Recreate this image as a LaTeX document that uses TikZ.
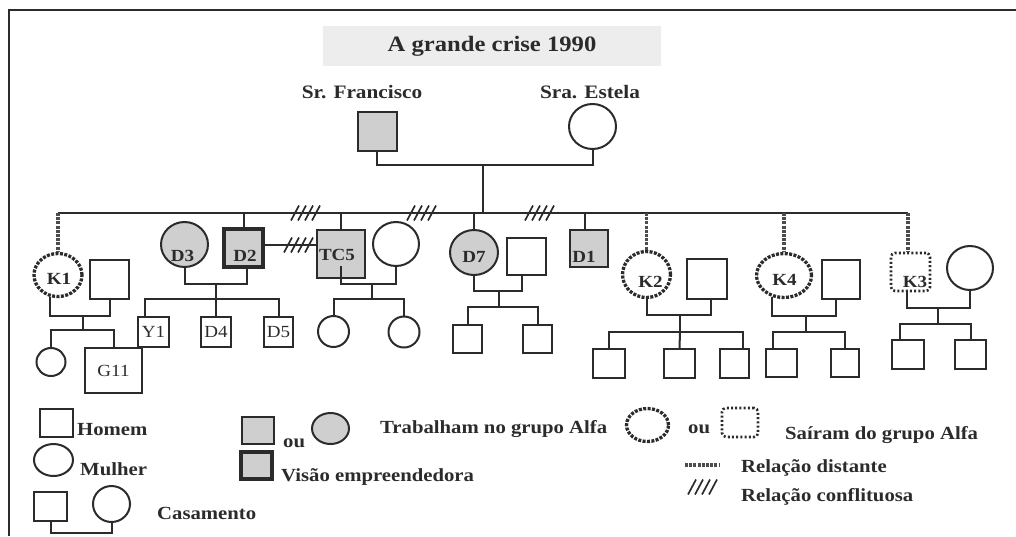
\documentclass[tikz,border=0pt]{standalone}
\usepackage{fontspec}
\setmainfont{Liberation Serif}[FakeStretch=1.12]
\usetikzlibrary{shapes.geometric}
\definecolor{linha}{HTML}{2B2B2B}
\definecolor{cinza}{HTML}{CFCFCF}
\definecolor{fundo}{HTML}{EDEDED}
\tikzset{%
	pessoa/.style     = {draw=linha, line width=2pt, fill=white, text=linha, inner sep=0pt, font=\fontsize{17}{17}\selectfont},
	homem/.style      = {pessoa, rectangle},
	mulher/.style     = {pessoa, ellipse},
	tam/.style 2 args = {minimum width=#1pt, minimum height=#2pt},
	alfa/.style       = {fill=cinza},
	visao/.style      = {line width=3.8pt},
	saiu/.style       = {line width=3.3pt, dash pattern=on 3pt off 1.4pt},
	saiuq/.style      = {line width=2.6pt, dash pattern=on 2pt off 2.2pt, rounded corners=4pt},
	txt/.style n args = {3}{label={[font=\fontsize{17}{17}\selectfont\bfseries, text=linha, inner sep=0pt, xshift=#1pt, yshift=#2pt]center:#3}},
	liga/.style       = {draw=linha, line width=2pt},
	distante/.style   = {draw=black!70, line width=3.2pt, dash pattern=on 3pt off 1.2pt},
	nome/.style       = {text=linha, inner sep=0pt, font=\fontsize{19}{19}\selectfont\bfseries},
	legenda/.style    = {text=linha, inner sep=0pt, anchor=base west, font=\fontsize{18.5}{18.5}\selectfont\bfseries},
	conflito/.pic     = {\foreach \i in {0,...,3} \draw[linha, line width=1.7pt] (-13+7*\i,7.5) -- (-5+7*\i,-7.5);},
}
\begin{document}
\begin{tikzpicture}[x=1pt, y=-1pt]
	\useasboundingbox (0,0) rectangle (1016,536);
	\draw[liga, line width=2.2pt] (9,536) |- (1016,10);
	\node[nome, fill=fundo, minimum width=338pt, minimum height=40pt, font=\fontsize{22}{22}\selectfont\bfseries] (titulo) at (492,46) {A grande crise 1990};

	% pais
	\node[nome] (lfran) at (362,92) {Sr. Francisco};
	\node[nome] (lest) at (590,92) {Sra. Estela};
	\node[homem, alfa, tam={39}{39}] (francisco) at (377,131.5) {};
	\node[mulher, tam={47}{45}] (estela) at (592.5,126.5) {};
	\coordinate (pais) at (483,165);
	\coordinate (irmaos) at (483,213);
	\coordinate (sl) at (58,213);
	\coordinate (sr) at (908,213);
	\draw[liga] (francisco.south) |- (pais) -| (estela.south);
	\draw[liga] (pais) -- (irmaos);
	\draw[liga] (sl) -- (sr);

	% filhos e casais
	\node[mulher, saiu, tam={48}{43}, txt={1}{-4}{K1}] (k1) at (58,275) {};
	\node[homem, tam={39}{39}] (k1m) at (109.5,279.5) {};
	\node[mulher, tam={29}{28}] (k1f) at (51,362) {};
	\node[homem, tam={57}{45}] (g11) at (113.5,370.5) {G11};
	\node[mulher, alfa, tam={47}{45}, txt={-2}{-11.5}{D3}] (d3) at (184.5,244.5) {};
	\node[homem, alfa, visao, tam={39}{38}, txt={1.5}{-8}{D2}] (d2) at (243.5,248) {};
	\node[homem, alfa, tam={48}{48}, txt={-4}{-1}{TC5}] (tc5) at (341,254) {};
	\node[mulher, tam={46}{44}] (tc5w) at (396,244) {};
	\node[homem, tam={31}{30}] (y1) at (153.5,332) {Y1};
	\node[homem, tam={30}{30}] (d4) at (216,332) {D4};
	\node[homem, tam={29}{30}] (d5) at (278.5,332) {D5};
	\node[mulher, tam={31}{31}] (tc5a) at (333.5,331.5) {};
	\node[mulher, tam={31}{31}] (tc5b) at (404,332) {};
	\node[mulher, alfa, tam={48}{45}, txt={0}{-4.5}{D7}] (d7) at (474,252.5) {};
	\node[homem, tam={39}{37}] (d7m) at (526.5,256.5) {};
	\node[homem, tam={29}{28}] (d7a) at (467.5,339) {};
	\node[homem, tam={29}{28}] (d7b) at (537.5,339) {};
	\node[homem, alfa, tam={38}{37}, txt={-5}{-8.5}{D1}] (d1) at (589,248.5) {};
	\node[mulher, saiu, tam={48}{46}, txt={4}{-7.5}{K2}] (k2) at (646.5,274.5) {};
	\node[homem, tam={40}{40}] (k2m) at (707,279) {};
	\node[homem, tam={32}{29}] (k2a) at (609,363.5) {};
	\node[homem, tam={31}{29}] (k2b) at (679.5,363.5) {};
	\node[homem, tam={29}{29}] (k2c) at (734.5,363.5) {};
	\node[mulher, saiu, tam={55}{44}, txt={0.5}{-4.5}{K4}] (k4) at (784,275.5) {};
	\node[homem, tam={38}{39}] (k4m) at (841,279.5) {};
	\node[homem, tam={31}{28}] (k4a) at (781.5,363) {};
	\node[homem, tam={28}{28}] (k4b) at (845,363) {};
	\node[homem, saiuq, tam={39}{38}, txt={4.5}{-10}{K3}] (k3) at (910.5,272) {};
	\node[mulher, tam={46}{44}] (k3w) at (970,268) {};
	\node[homem, tam={32}{29}] (k3a) at (908,354.5) {};
	\node[homem, tam={31}{29}] (k3b) at (970.5,354.5) {};

	% descidas da linha dos irmaos
	\draw[distante] (sl) -- (sl |- k1.north);
	\draw[liga] (d2.north |- sl) -- (d2.north);
	\draw[liga] (tc5.north |- sl) -- (tc5.north);
	\draw[liga] (d7.north |- sl) -- (d7.north);
	\draw[liga] ([xshift=-4pt]d1.north |- sl) -- ([xshift=-4pt]d1.north);
	\draw[distante] (k2.north |- sl) -- (k2.north);
	\draw[distante] (k4.north |- sl) -- (k4.north);
	\draw[distante] (sr) -- (sr |- k3.north);
	\draw[liga] ([yshift=3pt]d2.east) -- ([yshift=3pt]d2.east -| tc5.west);

	% casamentos
	\coordinate (c1) at (83,316);  \coordinate (f1) at (83,330);
	\coordinate (c2) at (216,284); \coordinate (f2) at (216,299);
	\coordinate (c3) at (372,284); \coordinate (f3) at (372,299);
	\coordinate (c4) at (499,291); \coordinate (f4) at (499,307);
	\coordinate (c5) at (680,315); \coordinate (f5) at (680,332);
	\coordinate (c6) at (806,316); \coordinate (f6) at (806,332);
	\coordinate (c7) at (938,308); \coordinate (f7) at (938,324);
	\draw[liga] (k1.251) |- (c1) -| (k1m.south);
	\draw[liga] (c1) -- (f1);
	\draw[liga] (k1f.north) |- (f1) -| (g11.north);
	\draw[liga] (d3.south) |- (c2) -| ([xshift=3.5pt]d2.south);
	\draw[liga] (c2) -- (f2);
	\draw[liga] ([xshift=-8.5pt]y1.north) |- (f2) -| (d5.north);
	\draw[liga] (f2) -- (d4.north);
	\draw[liga] ([yshift=13pt]tc5.south) |- (c3) -| (tc5w.south);
	\draw[liga] (c3) -- (f3);
	\draw[liga] (tc5a.north) |- (f3) -| (tc5b.north);
	\draw[liga] (d7.south) |- (c4) -| ([xshift=-4.5pt]d7m.south);
	\draw[liga] (c4) -- (f4);
	\draw[liga] (d7a.north) |- (f4) -| (d7b.north);
	\draw[liga] (k2.south) |- (c5) -| ([xshift=4pt]k2m.south);
	\draw[liga] (c5) -- (f5);
	\draw[liga] (k2a.north) |- (f5) -| ([xshift=8.5pt]k2c.north);
	\draw[liga] (f5) -- (k2b.north);
	\draw[liga] (k4.241) |- (c6) -| ([xshift=-5pt]k4m.south);
	\draw[liga] (c6) -- (f6);
	\draw[liga] ([xshift=-8.5pt]k4a.north) |- (f6) -| (k4b.north);
	\draw[liga] ([xshift=-3.5pt]k3.south) |- (c7) -| (k3w.south);
	\draw[liga] (c7) -- (f7);
	\draw[liga] ([xshift=-8pt]k3a.north) |- (f7) -| (k3b.north);

	% relacoes conflituosas
	\pic at (304,213) {conflito};
	\pic at (297,245) {conflito};
	\pic at (420,213) {conflito};
	\pic at (538,213) {conflito};

	% legenda
	\node[homem, tam={33}{28}] (lhomem) at (56.5,423) {};
	\node[legenda] (thomem) at (77,435) {Homem};
	\node[mulher, tam={39}{32}] (lmulher) at (53.5,460) {};
	\node[legenda] (tmulher) at (80,475) {Mulher};
	\node[homem, tam={33}{29}] (lcas1) at (50.5,506.5) {};
	\node[mulher, tam={37}{36}] (lcas2) at (111.5,504) {};
	\coordinate (lcas) at (81,533);
	\draw[liga] (lcas1.south) |- (lcas) -| (lcas2.south);
	\node[legenda] (tcas) at (157,519) {Casamento};
	\node[homem, alfa, tam={32}{27}] (lalfa1) at (258,430.5) {};
	\node[legenda] (tou1) at (283,447) {ou};
	\node[mulher, alfa, tam={37}{31}] (lalfa2) at (330.5,428.5) {};
	\node[legenda] (talfa) at (380,433) {Trabalham no grupo Alfa};
	\node[homem, alfa, visao, tam={31}{27}] (lvisao) at (256.5,465.5) {};
	\node[legenda] (tvisao) at (281,481) {Visão empreendedora};
	\node[mulher, saiu, tam={42}{33}] (lsaiu1) at (647.5,425) {};
	\node[legenda] (tou2) at (688,433) {ou};
	\node[homem, saiuq, tam={36}{29}] (lsaiu2) at (740,422.5) {};
	\node[legenda] (tsaiu) at (785,439) {Saíram do grupo Alfa};
	\coordinate (ldist) at (685,465);
	\draw[distante] (ldist) -- ++(35,0);
	\node[legenda] (tdist) at (741,472) {Relação distante};
	\pic at (701,487) {conflito};
	\node[legenda] (tconf) at (741,501) {Relação conflituosa};
\end{tikzpicture}
\end{document}
